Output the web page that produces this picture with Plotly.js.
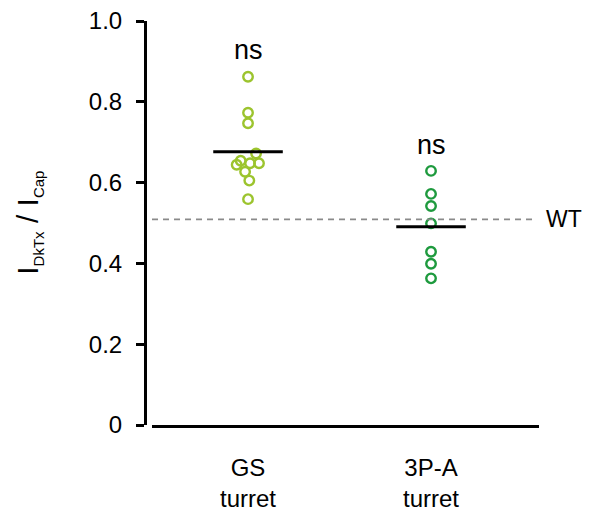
<!DOCTYPE html>
<html>
<head>
<meta charset="utf-8">
<script src="https://cdn.plot.ly/plotly-3.0.1.min.js"></script>
<style>
  html, body { margin: 0; padding: 0; background: #fff; }
  #chart { width: 589px; height: 512px; }
</style>
</head>
<body>
<div id="chart"></div>
<script>
// ---- data ----
const categories = ["GS<br>turret", "3P-A<br>turret"];
const gsValues  = [0.862, 0.773, 0.747, 0.672, 0.654, 0.648, 0.648, 0.644, 0.627, 0.605, 0.559];
const gsJitter  = [0, 0, 0, 0.044, -0.040, 0.011, 0.060, -0.062, -0.016, 0.007, 0];
const p3aValues = [0.629, 0.572, 0.542, 0.499, 0.429, 0.399, 0.363];
const p3aJitter = [0, 0, 0, 0, 0, 0, 0];
const wtValue = 0.509;
const significance = ["ns", "ns"];
const yTickVals = [0, 0.2, 0.4, 0.6, 0.8, 1.0];
const yTickText = ["0", "0.2", "0.4", "0.6", "0.8", "1.0"];

const mean = a => a.reduce((s, v) => s + v, 0) / a.length;
const FONT = "Liberation Sans, Arial, sans-serif";
const halfW = 0.19;

const gsColor = "#9cc42e";
const p3aColor = "#1e9a3e";

const traces = [
  {
    type: "scatter", mode: "markers",
    x: gsValues.map((v, i) => 1 + gsJitter[i]), y: gsValues,
    marker: { symbol: "circle-open", size: 9.5, color: gsColor, line: { width: 2.4, color: gsColor } },
    hoverinfo: "y", showlegend: false, cliponaxis: false
  },
  {
    type: "scatter", mode: "markers",
    x: p3aValues.map((v, i) => 2 + p3aJitter[i]), y: p3aValues,
    marker: { symbol: "circle-open", size: 9.5, color: p3aColor, line: { width: 2.4, color: p3aColor } },
    hoverinfo: "y", showlegend: false, cliponaxis: false
  },
  {
    type: "scatter", mode: "lines",
    x: [1 - halfW, 1 + halfW], y: [mean(gsValues), mean(gsValues)],
    line: { color: "#000", width: 3 }, showlegend: false, hoverinfo: "skip"
  },
  {
    type: "scatter", mode: "lines",
    x: [2 - halfW, 2 + halfW], y: [mean(p3aValues), mean(p3aValues)],
    line: { color: "#000", width: 3 }, showlegend: false, hoverinfo: "skip"
  }
];

const layout = {
  width: 589, height: 512,
  margin: { l: 145, r: 50, t: 21, b: 87 },
  paper_bgcolor: "#fff", plot_bgcolor: "#fff",
  font: { family: FONT, color: "#000", size: 24 },
  showlegend: false,
  xaxis: {
    domain: [0.0178, 1],
    range: [0.4754, 2.590],
    tickvals: [1, 2], ticktext: categories,
    ticks: "", showgrid: false, zeroline: false,
    showline: true, linecolor: "#000", linewidth: 3,
    tickfont: { family: FONT, size: 24, color: "#000" },
    ticklabelstandoff: 19
  },
  yaxis: {
    anchor: "free", position: 0,
    range: [0, 1],
    tickvals: yTickVals, ticktext: yTickText,
    ticks: "outside", ticklen: 8, tickwidth: 3, tickcolor: "#000",
    showgrid: false, zeroline: false,
    showline: true, linecolor: "#000", linewidth: 3,
    tickfont: { family: FONT, size: 24, color: "#000" },
    ticklabelstandoff: 9
  },
  shapes: [
    { type: "line", xref: "paper", yref: "y", x0: 0.0178, x1: 0.987, y0: wtValue, y1: wtValue,
      line: { color: "#8a8a8a", width: 1.8, dash: "6px,5px" } }
  ],
  annotations: [
    { xref: "paper", yref: "paper", x: -0.295, y: 0.5, xanchor: "center", yanchor: "middle",
      textangle: -90, showarrow: false,
      text: 'I<sub><span style="font-size:15px">DkTx</span></sub> / I<sub><span style="font-size:15px">Cap</span></sub>',
      font: { family: FONT, size: 30, color: "#000" } },
    { xref: "x", yref: "y", x: 1, y: 0.885, xanchor: "center", yanchor: "bottom",
      text: significance[0], showarrow: false, font: { family: FONT, size: 27, color: "#000" } },
    { xref: "x", yref: "y", x: 2, y: 0.650, xanchor: "center", yanchor: "bottom",
      text: significance[1], showarrow: false, font: { family: FONT, size: 27, color: "#000" } },
    { xref: "paper", yref: "y", x: 1.012, y: wtValue, xanchor: "left", yanchor: "middle",
      text: "WT", showarrow: false, font: { family: FONT, size: 23, color: "#000" } }
  ]
};

Plotly.newPlot("chart", traces, layout, { displayModeBar: false, staticPlot: true });
</script>
</body>
</html>
